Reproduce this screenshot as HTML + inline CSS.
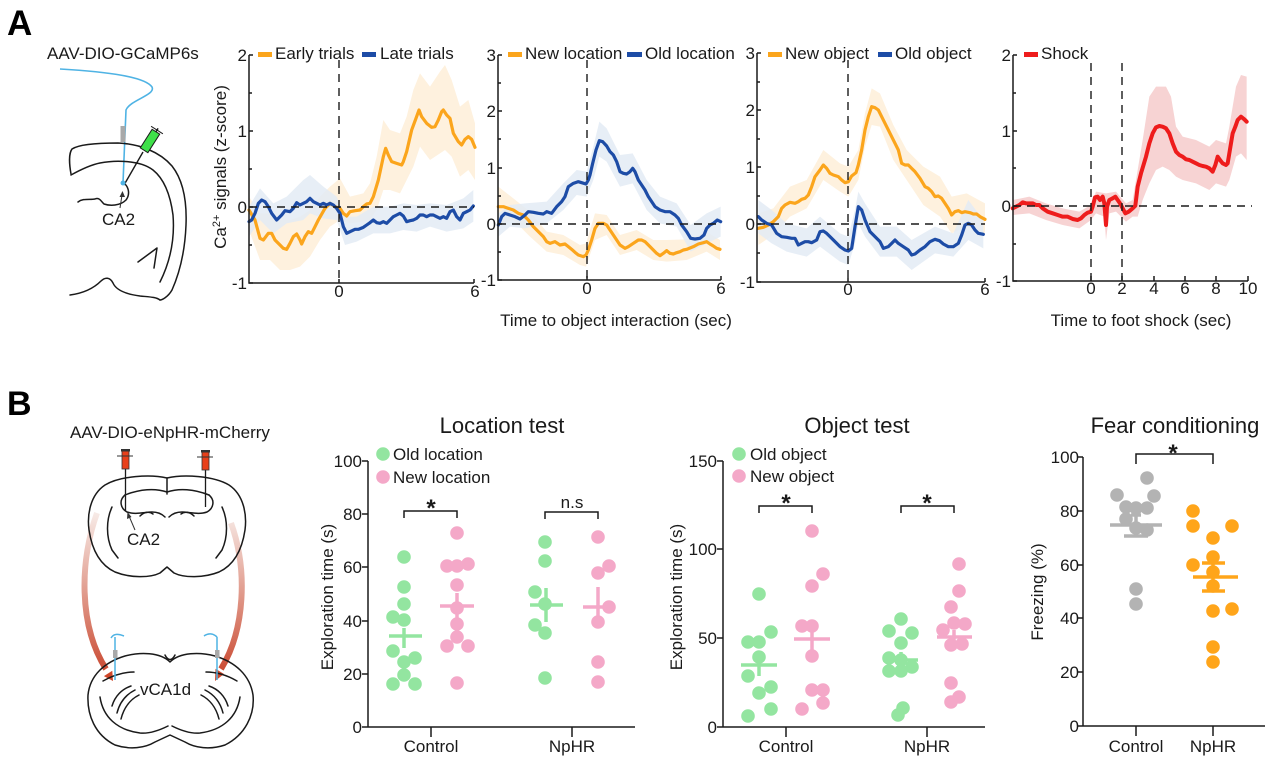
<!DOCTYPE html>
<html><head><meta charset="utf-8"><style>
html,body{margin:0;padding:0;background:#fff;}
svg{display:block;font-family:"Liberation Sans",Arial,sans-serif;}
.ax{stroke:#1a1a1a;stroke-width:1.5;fill:none}
.dash{stroke:#1a1a1a;stroke-width:1.4;stroke-dasharray:8 6;fill:none}
.t{font-size:17px;fill:#1a1a1a}
.ln{vector-effect:non-scaling-stroke;fill:none;stroke-linejoin:round;stroke-linecap:round}
.brain{fill:none;stroke:#1a1a1a;stroke-width:1.5;stroke-linejoin:round;stroke-linecap:round}
</style></head><body>
<svg width="1266" height="758" viewBox="0 0 1266 758" xmlns="http://www.w3.org/2000/svg">
<defs>
<linearGradient id="gL" x1="0" y1="510" x2="0" y2="680" gradientUnits="userSpaceOnUse">
<stop offset="0" stop-color="#f8eeea"/><stop offset="1" stop-color="#c8432a"/></linearGradient>
</defs>
<rect width="1266" height="758" fill="#fff"/>

<!-- ===== Panel A ===== -->
<text x="7" y="35" font-size="35" font-weight="bold" fill="#000">A</text>
<text x="47" y="59" class="t">AAV-DIO-GCaMP6s</text>
<!-- schematic A -->
<path d="M60,69 C110,72 145,77 152,87 C156,95 130,100 126,110 L123,183" fill="none" stroke="#4fb3e4" stroke-width="1.6"/>
<rect x="120.5" y="126" width="5" height="16" fill="#a9a9a9"/>
<path class="brain" d="M71,174 C69,163 69,153 72,149 C78,145 95,143 118,143 C140,144 160,152 172,166 C183,180 187,200 186,225 C185,250 180,272 172,290 C168,297 162,300 160,300"/>
<path class="brain" d="M71,175 C80,170 90,165 100,163 C115,160 140,160 153,170 C163,178 170,192 173,215 C175,240 170,262 160,282"/>
<path class="brain" d="M138,262 L157,248 L154,268"/>
<path class="brain" d="M70,295 C85,293 95,287 101,281 C105,277 110,277 113,283 C116,290 125,294 140,296 C150,297 156,297 160,300"/>
<path class="brain" d="M78,202 C83,198 90,200 95,199 C99,197 101,201 104,204 C110,206 120,206 126,200 C130,195 129,188 125,184"/>
<line x1="124" y1="185" x2="143" y2="152" stroke="#1a1a1a" stroke-width="1.4"/>
<g transform="translate(150,141) rotate(-57.5)">
<rect x="-11" y="-4.5" width="22" height="9" fill="#3fe04a" stroke="#1a1a1a" stroke-width="1"/>
<line x1="13" y1="-7" x2="13" y2="7" stroke="#1a1a1a" stroke-width="1"/>
<line x1="11" y1="0" x2="15" y2="0" stroke="#1a1a1a" stroke-width="1.5"/>
</g>
<circle cx="123" cy="183" r="2.5" fill="#4fb3e4"/>
<line x1="120" y1="208" x2="122" y2="195" stroke="#333" stroke-width="1"/>
<polygon points="122.5,191 119.5,197 125,197" fill="#333"/>
<text x="102" y="225" class="t">CA2</text>

<!-- Y label A -->
<text transform="translate(226,167) rotate(-90)" text-anchor="middle" class="t">Ca<tspan font-size="11" dy="-6">2+</tspan><tspan dy="6"> signals (z-score)</tspan></text>

<!-- ===== Chart 1 ===== -->
<g transform="translate(230,40) scale(0.333333)">
<polygon fill="#fef1de" points="57,470 90,520 120,520 150,540 180,540 210,530 240,510 270,470 300,440 330,415 360,470 400,460 420,430 440,350 460,240 480,270 510,280 530,230 550,150 570,100 600,140 630,95 645,75 665,120 690,200 715,180 735,250 735,420 715,390 690,410 665,350 645,330 630,340 600,360 570,320 550,380 530,420 510,460 480,450 460,450 440,510 420,540 400,545 360,550 330,540 300,560 270,600 240,650 210,680 180,690 150,690 120,660 90,660 57,570"/>
<polygon fill="#e3ebf5" fill-opacity="0.85" points="57,500 90,445 130,490 170,470 220,420 240,405 280,440 320,470 345,530 380,530 430,500 480,500 520,490 560,495 600,490 650,495 700,475 730,450 730,545 700,565 650,575 600,560 560,575 520,570 480,580 430,580 380,605 345,615 320,540 280,535 240,520 220,540 170,550 130,580 90,540 57,590"/>
<polyline class="ln" stroke="#fba51c" stroke-width="3.2" points="57,510 75,540 90,595 100,600 115,580 125,580 135,600 150,615 160,625 170,628 180,610 190,590 200,582 210,600 215,612 225,590 235,575 245,580 255,560 265,540 285,505 300,490 315,500 330,505 340,520 350,528 360,515 375,512 390,510 400,500 410,492 420,490 430,470 445,420 460,350 467,325 475,345 485,365 500,370 515,375 520,365 530,335 545,270 558,235 567,210 575,230 590,250 605,262 615,260 625,240 635,215 640,210 650,225 660,235 670,280 685,305 695,315 705,298 715,290 725,298 735,322"/>
<polyline class="ln" stroke="#1d4ca6" stroke-width="3.2" points="57,545 65,540 75,520 85,490 95,480 105,485 115,500 125,520 140,540 155,525 165,512 180,515 190,505 200,488 210,495 220,490 230,485 240,475 250,485 260,490 270,495 280,490 290,495 300,490 310,495 320,505 330,520 340,560 350,580 360,575 375,568 385,568 400,562 410,555 420,548 430,540 440,548 450,550 460,545 470,550 480,540 490,530 500,525 510,520 520,528 530,545 540,542 550,540 560,535 570,525 580,525 590,530 600,525 610,525 620,530 630,535 640,530 650,535 660,515 670,510 680,530 690,540 700,520 710,515 720,510 730,498"/>
</g>
<line class="dash" x1="339" y1="60" x2="339" y2="283"/>
<line class="dash" x1="249" y1="207" x2="474" y2="207"/>
<path class="ax" d="M249,55 V283 H474"/>
<path class="ax" d="M249,55H253M249,93H252M249,131H253M249,169H252M249,207H253M249,245H252M249,283H253M339,283V279M474,283V279"/>
<g class="t" text-anchor="end"><text x="247" y="61">2</text><text x="247" y="137">1</text><text x="247" y="213">0</text><text x="247" y="289">-1</text></g>
<g class="t" text-anchor="middle"><text x="339" y="297">0</text><text x="475" y="297">6</text></g>
<line x1="258" y1="54.5" x2="272" y2="54.5" stroke="#fba51c" stroke-width="5"/>
<text x="275" y="59" class="t">Early trials</text>
<line x1="362" y1="54.5" x2="376" y2="54.5" stroke="#1d4ca6" stroke-width="5"/>
<text x="380" y="59" class="t">Late trials</text>

<!-- ===== Chart 2 ===== -->
<g transform="translate(480,40) scale(0.333333)">
<polygon fill="#fef1de" points="55,440 100,475 150,515 200,575 250,585 300,615 318,610 345,520 380,525 420,585 470,570 520,600 560,600 620,598 680,575 720,600 720,660 680,635 620,660 560,665 520,660 470,630 420,645 380,585 345,600 318,680 300,675 250,645 200,635 150,590 100,540 55,555"/>
<polygon fill="#e3ebf5" fill-opacity="0.85" points="55,520 90,495 135,490 200,485 250,430 290,390 320,395 340,320 358,245 380,265 420,345 458,340 500,420 540,470 590,490 632,555 680,520 722,500 722,590 680,610 632,635 590,560 540,550 500,510 458,430 420,440 380,365 358,350 340,420 320,470 290,465 250,510 200,550 135,565 90,560 55,590"/>
<polyline class="ln" stroke="#fba51c" stroke-width="3.2" points="55,500 70,500 85,505 100,510 115,520 130,525 145,540 160,560 175,575 190,590 200,605 210,610 225,605 240,615 255,612 265,620 275,628 285,637 295,645 310,650 318,645 325,630 335,600 345,565 355,550 370,550 380,555 390,570 400,585 410,600 420,615 435,625 445,620 460,610 475,600 485,600 495,605 510,620 520,630 530,640 540,647 550,640 560,632 570,640 580,642 590,638 600,635 610,630 620,628 640,620 655,612 670,608 680,605 690,612 700,618 710,625 720,628"/>
<polyline class="ln" stroke="#1d4ca6" stroke-width="3.2" points="55,555 65,530 75,520 90,525 105,530 120,537 135,525 145,515 160,517 175,520 190,522 200,515 215,520 230,500 245,485 255,470 265,440 280,430 295,425 305,428 318,432 325,420 330,405 338,370 348,330 358,302 368,305 380,318 390,335 400,345 410,365 420,395 430,400 440,402 450,395 458,385 465,395 475,420 485,435 495,450 505,470 515,485 525,500 540,510 555,515 570,515 585,525 595,535 605,555 620,575 632,595 645,597 660,595 672,585 680,565 690,555 700,550 712,540 722,545"/>
</g>
<line class="dash" x1="587" y1="60" x2="587" y2="280"/>
<line class="dash" x1="498" y1="224" x2="721" y2="224"/>
<path class="ax" d="M498,55 V280 H721"/>
<path class="ax" d="M498,55H502M498,83H501M498,111H502M498,139H501M498,168H502M498,196H501M498,224H502M498,252H501M498,280H502M587,280V276M721,280V276"/>
<g class="t" text-anchor="end"><text x="496" y="61">3</text><text x="496" y="117">2</text><text x="496" y="174">1</text><text x="496" y="230">0</text><text x="496" y="286">-1</text></g>
<g class="t" text-anchor="middle"><text x="587" y="294">0</text><text x="721" y="294">6</text></g>
<line x1="508" y1="54.5" x2="522" y2="54.5" stroke="#fba51c" stroke-width="5"/>
<text x="525" y="59" class="t">New location</text>
<line x1="627" y1="54.5" x2="642" y2="54.5" stroke="#1d4ca6" stroke-width="5"/>
<text x="645" y="59" class="t">Old location</text>
<text x="616" y="326" class="t" text-anchor="middle">Time to object interaction (sec)</text>

<!-- ===== Chart 3 ===== -->
<g transform="translate(740,40) scale(0.333333)">
<polygon fill="#fef1de" points="55,520 100,505 150,440 200,420 250,330 300,370 325,380 355,330 375,220 395,145 420,160 460,255 500,330 550,380 600,410 635,470 680,460 735,490 735,580 680,560 635,580 600,530 550,495 500,420 460,360 420,260 395,255 375,320 355,420 325,470 300,455 250,420 200,505 150,530 100,585 55,615"/>
<polygon fill="#e3ebf5" fill-opacity="0.85" points="55,480 95,510 140,550 200,565 240,530 300,580 325,590 345,510 355,455 375,490 420,560 470,560 515,600 585,560 640,580 685,480 730,540 730,625 685,600 640,650 585,640 515,690 470,650 420,650 375,590 355,550 345,610 325,675 300,665 240,620 200,650 140,635 95,610 55,580"/>
<polyline class="ln" stroke="#fba51c" stroke-width="3.2" points="55,565 70,562 85,555 100,545 115,530 125,505 135,495 150,487 165,490 175,485 185,478 195,475 205,465 215,440 225,410 240,390 250,375 260,385 270,400 280,405 295,410 305,420 315,428 325,425 335,408 348,398 355,375 365,330 375,270 385,230 395,200 405,203 415,210 425,230 440,260 455,290 465,310 475,330 485,370 495,375 505,375 515,385 525,395 540,415 555,440 565,445 575,455 585,470 595,468 605,475 615,490 625,505 635,525 645,515 655,512 665,518 675,515 690,518 700,522 710,522 720,530 735,538"/>
<polyline class="ln" stroke="#1d4ca6" stroke-width="3.2" points="55,530 65,540 80,550 95,555 110,580 125,590 140,592 155,595 165,595 175,615 185,610 195,605 205,605 215,608 230,600 240,575 250,573 260,580 270,590 285,605 300,620 315,630 325,633 335,625 345,560 355,500 365,510 375,540 390,575 405,590 420,605 430,625 445,620 455,610 465,600 475,610 490,620 505,630 515,645 525,642 540,630 555,620 570,605 585,598 598,602 610,612 625,620 640,620 655,610 665,585 675,555 685,550 695,555 705,570 715,580 730,583"/>
</g>
<line class="dash" x1="848" y1="60" x2="848" y2="282"/>
<line class="dash" x1="757" y1="224" x2="985" y2="224"/>
<path class="ax" d="M757,53 V282 H985"/>
<path class="ax" d="M757,53H761M757,82H760M757,110H761M757,139H760M757,167H761M757,196H760M757,224H761M757,253H760M757,282H761M848,282V278M985,282V278"/>
<g class="t" text-anchor="end"><text x="755" y="59">3</text><text x="755" y="116">2</text><text x="755" y="173">1</text><text x="755" y="230">0</text><text x="755" y="288">-1</text></g>
<g class="t" text-anchor="middle"><text x="848" y="295">0</text><text x="985" y="295">6</text></g>
<line x1="768" y1="54.5" x2="782" y2="54.5" stroke="#fba51c" stroke-width="5"/>
<text x="785" y="59" class="t">New object</text>
<line x1="878" y1="54.5" x2="892" y2="54.5" stroke="#1d4ca6" stroke-width="5"/>
<text x="895" y="59" class="t">Old object</text>

<!-- ===== Chart 4 ===== -->
<g transform="translate(996,40) scale(0.333333)">
<polygon fill="#f7d3d3" points="50,480 100,470 150,490 200,505 250,515 285,495 300,455 330,460 360,455 390,490 410,480 420,420 440,300 460,170 480,140 510,140 525,170 540,260 560,290 600,300 640,320 660,300 690,310 700,260 720,140 735,105 752,110 752,360 735,340 720,350 700,420 690,440 660,430 640,450 600,430 560,420 540,410 520,390 500,380 480,390 460,430 440,480 425,530 410,530 390,545 360,515 340,520 330,600 325,530 300,520 285,540 250,565 200,555 150,540 100,520 50,525"/>
<polyline class="ln" stroke="#ee1c1c" stroke-width="4" points="50,505 60,500 70,495 80,487 90,490 100,490 110,490 120,495 130,495 140,505 155,515 170,520 185,525 200,530 215,530 230,537 245,540 255,535 265,525 275,518 285,515 290,500 297,472 305,470 312,480 320,470 325,490 330,555 333,500 340,480 350,475 358,470 365,480 372,490 380,505 388,520 398,515 410,505 418,497 425,440 435,400 450,350 460,310 470,280 480,262 490,258 500,260 510,265 520,280 530,310 540,335 550,345 560,350 570,358 580,360 590,365 600,370 610,375 620,378 630,380 640,385 650,395 658,375 665,350 672,360 680,370 690,375 695,370 700,340 710,280 718,260 725,240 735,230 745,238 752,245"/>
</g>
<line class="dash" x1="1091" y1="63" x2="1091" y2="281"/>
<line class="dash" x1="1122" y1="63" x2="1122" y2="281"/>
<line class="dash" x1="1013" y1="206" x2="1252" y2="206"/>
<path class="ax" d="M1013,55 V281 H1248"/>
<path class="ax" d="M1013,55H1017M1013,93H1016M1013,131H1017M1013,168H1016M1013,206H1017M1013,244H1016M1013,281H1017M1091,281V276M1122,281V276M1154,281V276M1185,281V276M1216,281V276M1248,281V276"/>
<g class="t" text-anchor="end"><text x="1011" y="61">2</text><text x="1011" y="137">1</text><text x="1011" y="212">0</text><text x="1011" y="287">-1</text></g>
<g class="t" text-anchor="middle"><text x="1091" y="294">0</text><text x="1122" y="294">2</text><text x="1154" y="294">4</text><text x="1185" y="294">6</text><text x="1216" y="294">8</text><text x="1248" y="294">10</text></g>
<line x1="1024" y1="54.5" x2="1038" y2="54.5" stroke="#ee1c1c" stroke-width="5"/>
<text x="1041" y="59" class="t">Shock</text>
<text x="1141" y="326" class="t" text-anchor="middle">Time to foot shock (sec)</text>

<!-- ===== Panel B ===== -->
<text x="7" y="415" font-size="34" font-weight="bold" fill="#000">B</text>
<text x="70" y="438" class="t">AAV-DIO-eNpHR-mCherry</text>
<!-- arrows -->
<path d="M97,513 C80,560 78,625 106,669" fill="none" stroke="url(#gL)" stroke-width="6"/>
<polygon points="113,681 112.3,670.7 103.9,676.1" fill="#d0472a"/>
<path d="M231,523 C248,570 245,630 221,669" fill="none" stroke="url(#gL)" stroke-width="6"/>
<polygon points="215,681 224,674 215.5,668.8" fill="#d0472a"/>
<!-- top brain -->
<path class="brain" d="M167,478 C150,474 120,476 105,485 C90,495 87,515 89,530 C92,550 100,565 115,572 C130,578 150,578 160,573 L167,567 L174,573 C184,578 204,578 219,572 C234,565 242,550 245,530 C247,515 244,495 229,485 C214,476 184,474 167,478 Z"/>
<path class="brain" d="M167,478 L167,494"/>
<path class="brain" d="M125,495 C140,489 155,488 167,492 C179,488 194,489 209,495"/>
<path class="brain" d="M125,495 C119,500 120,508 127,512 C135,515 145,512 152,512 C158,512 162,514 165,517"/>
<path class="brain" d="M209,495 C215,500 214,508 207,512 C199,515 189,512 182,512 C176,512 172,514 169,517"/>
<path class="brain" d="M140,516 C144,512 149,511 153,514"/>
<path class="brain" d="M181,514 C185,511 190,512 194,516"/>
<path class="brain" d="M112,507 C106,520 106,537 112,550 L118,558"/>
<path class="brain" d="M222,507 C228,520 228,537 222,550 L216,558"/>
<!-- syringes -->
<line x1="125.5" y1="469" x2="125.5" y2="511" stroke="#1a1a1a" stroke-width="1.3"/>
<rect x="122" y="451" width="7" height="18" fill="#e8401a" stroke="#333" stroke-width="0.8"/>
<rect x="121" y="449" width="9" height="2.5" fill="#333"/>
<line x1="117" y1="456" x2="133" y2="456" stroke="#333" stroke-width="1"/>
<line x1="205.5" y1="470" x2="205.5" y2="507" stroke="#1a1a1a" stroke-width="1.3"/>
<rect x="202" y="452" width="7" height="18" fill="#e8401a" stroke="#333" stroke-width="0.8"/>
<rect x="201" y="450" width="9" height="2.5" fill="#333"/>
<line x1="197" y1="457" x2="213" y2="457" stroke="#333" stroke-width="1"/>
<line x1="135" y1="530" x2="129" y2="516" stroke="#333" stroke-width="1"/>
<polygon points="127.5,512 127,519 131.5,517" fill="#333"/>
<text x="127" y="545" class="t">CA2</text>
<!-- bottom brain -->
<path class="brain" d="M170,662 C160,652 140,652 125,656 C105,662 90,675 88,695 C87,715 95,735 115,745 C130,750 145,748 155,742 L170,735 L185,742 C195,748 210,750 225,745 C245,735 255,715 253,695 C250,675 235,662 215,656 C200,652 180,652 170,662 Z"/>
<path class="brain" d="M165,655 C168,661 172,661 175,655"/>
<path class="brain" d="M103,681 C115,674 125,672 134,672"/>
<path class="brain" d="M237,681 C225,674 215,672 206,672"/>
<path class="brain" d="M112,706 C115,696 122,689 131,686 M117,713 C120,701 127,694 135,690 M121,719 C124,707 131,699 139,695"/>
<path class="brain" d="M228,706 C225,696 218,689 209,686 M223,713 C220,701 213,694 205,690 M219,719 C216,707 209,699 201,695"/>
<path class="brain" d="M100,697 C103,717 117,730 140,733 C150,734 160,730 168,726"/>
<path class="brain" d="M240,697 C237,717 223,730 200,733 C190,734 180,730 172,726"/>
<path d="M111,638 C114,633 119,634 124,636 M115,637 L115,680" fill="none" stroke="#4fb3e4" stroke-width="1.5"/>
<rect x="113" y="650" width="4.5" height="8" fill="#a9a9a9"/>
<path d="M204,636 C208,633 213,633 217,637 M217,637 L217,680" fill="none" stroke="#4fb3e4" stroke-width="1.5"/>
<rect x="215" y="650" width="4.5" height="8" fill="#a9a9a9"/>
<text x="140" y="695" class="t" fill="#3a2e2a">vCA1d</text>

<!-- ===== Location test ===== -->
<text x="502" y="433" font-size="22" fill="#1a1a1a" text-anchor="middle">Location test</text>
<path class="ax" d="M368,461 V727 H635 M362,461H368M362,514H368M362,567H368M362,621H368M362,674H368M362,727H368 M431,727V737M572,727V737"/>
<g class="t" text-anchor="end"><text x="362" y="467">100</text><text x="362" y="520">80</text><text x="362" y="573">60</text><text x="362" y="627">40</text><text x="362" y="680">20</text><text x="362" y="733">0</text></g>
<g class="t" text-anchor="middle"><text x="431" y="752">Control</text><text x="572" y="752">NpHR</text></g>
<text transform="translate(333,597) rotate(-90)" text-anchor="middle" class="t">Exploration time (s)</text>
<circle cx="383" cy="454" r="6.8" fill="#93e5a0"/><text x="393" y="460" class="t">Old location</text>
<circle cx="383" cy="477" r="6.8" fill="#f4a8c8"/><text x="393" y="483" class="t">New location</text>
<path d="M404,518V511H457V518 M545,519V512H598V519" fill="none" stroke="#1a1a1a" stroke-width="1.5"/>
<text x="431" y="516" font-size="24" font-weight="bold" text-anchor="middle" fill="#1a1a1a">*</text>
<text x="572" y="508" class="t" text-anchor="middle">n.s</text>
<g fill="#93e5a0">
<circle cx="404" cy="557" r="6.8"/><circle cx="404" cy="587" r="6.8"/><circle cx="404" cy="604" r="6.8"/><circle cx="393" cy="617" r="6.8"/><circle cx="404" cy="620" r="6.8"/><circle cx="393" cy="651" r="6.8"/><circle cx="404" cy="662" r="6.8"/><circle cx="415" cy="658" r="6.8"/><circle cx="404" cy="675" r="6.8"/><circle cx="393" cy="684" r="6.8"/><circle cx="415" cy="684" r="6.8"/>
<circle cx="545" cy="542" r="6.8"/><circle cx="545" cy="561" r="6.8"/><circle cx="535" cy="592" r="6.8"/><circle cx="545" cy="604" r="6.8"/><circle cx="535" cy="625" r="6.8"/><circle cx="545" cy="633" r="6.8"/><circle cx="545" cy="678" r="6.8"/>
</g>
<g fill="#f4a8c8">
<circle cx="457" cy="533" r="6.8"/><circle cx="447" cy="566" r="6.8"/><circle cx="457" cy="566" r="6.8"/><circle cx="468" cy="564" r="6.8"/><circle cx="457" cy="585" r="6.8"/><circle cx="457" cy="608" r="6.8"/><circle cx="457" cy="624" r="6.8"/><circle cx="457" cy="637" r="6.8"/><circle cx="447" cy="646" r="6.8"/><circle cx="468" cy="646" r="6.8"/><circle cx="457" cy="683" r="6.8"/>
<circle cx="598" cy="537" r="6.8"/><circle cx="609" cy="566" r="6.8"/><circle cx="598" cy="573" r="6.8"/><circle cx="609" cy="607" r="6.8"/><circle cx="598" cy="622" r="6.8"/><circle cx="598" cy="662" r="6.8"/><circle cx="598" cy="682" r="6.8"/>
</g>
<path d="M389,636H422 M404,628V648 M530,605H563 M546,588V622" stroke="#93e5a0" stroke-width="3.5" fill="none"/>
<path d="M440,606H474 M457,593V618 M583,607H615 M598,587V622" stroke="#f4a8c8" stroke-width="3.5" fill="none"/>

<!-- ===== Object test ===== -->
<text x="857" y="433" font-size="22" fill="#1a1a1a" text-anchor="middle">Object test</text>
<path class="ax" d="M723,461 V727 H985 M717,461H723M717,549H723M717,638H723M717,727H723 M786,727V737M927,727V737"/>
<g class="t" text-anchor="end"><text x="717" y="467">150</text><text x="717" y="555">100</text><text x="717" y="644">50</text><text x="717" y="733">0</text></g>
<g class="t" text-anchor="middle"><text x="786" y="752">Control</text><text x="927" y="752">NpHR</text></g>
<text transform="translate(682,597) rotate(-90)" text-anchor="middle" class="t">Exploration time (s)</text>
<circle cx="739" cy="454" r="6.8" fill="#93e5a0"/><text x="750" y="460" class="t">Old object</text>
<circle cx="739" cy="476" r="6.8" fill="#f4a8c8"/><text x="750" y="482" class="t">New object</text>
<path d="M759,513V506H812V513 M901,513V506H954V513" fill="none" stroke="#1a1a1a" stroke-width="1.5"/>
<text x="786" y="511" font-size="24" font-weight="bold" text-anchor="middle" fill="#1a1a1a">*</text>
<text x="927" y="511" font-size="24" font-weight="bold" text-anchor="middle" fill="#1a1a1a">*</text>
<g fill="#93e5a0">
<circle cx="759" cy="594" r="6.8"/><circle cx="748" cy="642" r="6.8"/><circle cx="759" cy="642" r="6.8"/><circle cx="771" cy="632" r="6.8"/><circle cx="759" cy="657" r="6.8"/><circle cx="748" cy="676" r="6.8"/><circle cx="771" cy="687" r="6.8"/><circle cx="759" cy="693" r="6.8"/><circle cx="771" cy="709" r="6.8"/><circle cx="748" cy="716" r="6.8"/>
<circle cx="901" cy="619" r="6.8"/><circle cx="889" cy="631" r="6.8"/><circle cx="912" cy="633" r="6.8"/><circle cx="901" cy="643" r="6.8"/><circle cx="889" cy="658" r="6.8"/><circle cx="901" cy="660" r="6.8"/><circle cx="912" cy="667" r="6.8"/><circle cx="889" cy="671" r="6.8"/><circle cx="901" cy="671" r="6.8"/><circle cx="903" cy="708" r="6.8"/><circle cx="898" cy="715" r="6.8"/>
</g>
<g fill="#f4a8c8">
<circle cx="812" cy="531" r="6.8"/><circle cx="823" cy="574" r="6.8"/><circle cx="812" cy="586" r="6.8"/><circle cx="802" cy="626" r="6.8"/><circle cx="812" cy="626" r="6.8"/><circle cx="812" cy="656" r="6.8"/><circle cx="812" cy="690" r="6.8"/><circle cx="823" cy="690" r="6.8"/><circle cx="823" cy="703" r="6.8"/><circle cx="802" cy="709" r="6.8"/>
<circle cx="959" cy="564" r="6.8"/><circle cx="959" cy="591" r="6.8"/><circle cx="951" cy="607" r="6.8"/><circle cx="943" cy="630" r="6.8"/><circle cx="954" cy="623" r="6.8"/><circle cx="965" cy="624" r="6.8"/><circle cx="951" cy="645" r="6.8"/><circle cx="962" cy="644" r="6.8"/><circle cx="951" cy="683" r="6.8"/><circle cx="959" cy="697" r="6.8"/><circle cx="951" cy="702" r="6.8"/>
</g>
<path d="M741,665H777 M759,653V676 M883,660H918 M901,652V667" stroke="#93e5a0" stroke-width="3.5" fill="none"/>
<path d="M794,639H830 M812,626V652 M937,637H972 M954,630V643" stroke="#f4a8c8" stroke-width="3.5" fill="none"/>

<!-- ===== Fear conditioning ===== -->
<text x="1175" y="433" font-size="22" fill="#1a1a1a" text-anchor="middle">Fear conditioning</text>
<path class="ax" d="M1083,457 V726 H1265 M1077,457H1083M1077,511H1083M1077,565H1083M1077,618H1083M1077,672H1083M1077,726H1083 M1136,726V736M1213,726V736"/>
<g class="t" text-anchor="end"><text x="1079" y="463">100</text><text x="1079" y="517">80</text><text x="1079" y="571">60</text><text x="1079" y="624">40</text><text x="1079" y="678">20</text><text x="1079" y="732">0</text></g>
<g class="t" text-anchor="middle"><text x="1136" y="752">Control</text><text x="1213" y="752">NpHR</text></g>
<text transform="translate(1043,592) rotate(-90)" text-anchor="middle" class="t">Freezing (%)</text>
<path d="M1136,464V454H1213V464" fill="none" stroke="#1a1a1a" stroke-width="1.5"/>
<text x="1173" y="461" font-size="24" font-weight="bold" text-anchor="middle" fill="#1a1a1a">*</text>
<g fill="#b3b3b3">
<circle cx="1147" cy="478" r="6.8"/><circle cx="1117" cy="495" r="6.8"/><circle cx="1154" cy="496" r="6.8"/><circle cx="1126" cy="507" r="6.8"/><circle cx="1136" cy="508" r="6.8"/><circle cx="1147" cy="508" r="6.8"/><circle cx="1126" cy="519" r="6.8"/><circle cx="1136" cy="528" r="6.8"/><circle cx="1147" cy="530" r="6.8"/><circle cx="1136" cy="589" r="6.8"/><circle cx="1136" cy="604" r="6.8"/>
</g>
<g fill="#ffa51a">
<circle cx="1193" cy="511" r="6.8"/><circle cx="1193" cy="526" r="6.8"/><circle cx="1232" cy="526" r="6.8"/><circle cx="1213" cy="538" r="6.8"/><circle cx="1213" cy="557" r="6.8"/><circle cx="1193" cy="565" r="6.8"/><circle cx="1213" cy="572" r="6.8"/><circle cx="1213" cy="586" r="6.8"/><circle cx="1213" cy="611" r="6.8"/><circle cx="1232" cy="609" r="6.8"/><circle cx="1213" cy="647" r="6.8"/><circle cx="1213" cy="662" r="6.8"/>
</g>
<path d="M1110,525H1162 M1136,515V536 M1131,515H1141 M1124,536H1148" stroke="#b3b3b3" stroke-width="3.5" fill="none"/>
<path d="M1193,577H1238 M1213,563V591 M1202,563H1225 M1202,591H1225" stroke="#ffa51a" stroke-width="3.5" fill="none"/>
</svg>
</body></html>
